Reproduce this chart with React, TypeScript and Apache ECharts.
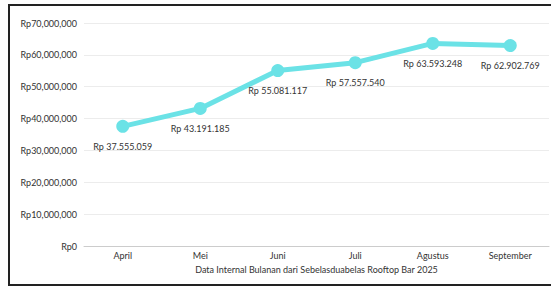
import React, { useEffect, useRef } from "react";
import * as echarts from "echarts";

const months = ["April", "Mei", "Juni", "Juli", "Agustus", "September"];
const revenue = [37555059, 43191185, 55081117, 57557540, 63593248, 62902769];
const axisTitle = "Data Internal Bulanan dari Sebelasduabelas Rooftop Bar 2025";

const fmtComma = (v: number) => "Rp" + v.toLocaleString("en-US");
const fmtDot = (v: number) => "Rp " + v.toLocaleString("en-US").replace(/,/g, ".");

export default function App() {
  const ref = useRef<HTMLDivElement>(null);
  useEffect(() => {
    if (!ref.current) return;
    const chart = echarts.init(ref.current, null, { renderer: "svg" });
    const font = "Lato, 'Noto Sans', sans-serif";
    chart.setOption({
      animation: false,
      textStyle: { fontFamily: font },
      grid: { left: 84, right: 2, top: 23, bottom: 42, containLabel: false },
      xAxis: {
        type: "category",
        data: months,
        axisLine: { lineStyle: { color: "#cccccc" } },
        axisTick: { show: false },
        axisLabel: { color: "#333", fontSize: 9, margin: 5, fontFamily: font },
        name: axisTitle,
        nameLocation: "middle",
        nameGap: 19,
        nameTextStyle: { color: "#333", fontSize: 9, fontFamily: font },
      },
      yAxis: {
        type: "value",
        min: 0,
        max: 70000000,
        interval: 10000000,
        axisLine: { show: false },
        axisTick: { show: false },
        splitLine: { lineStyle: { color: "#ececec" } },
        axisLabel: {
          color: "#333",
          fontSize: 9,
          margin: 7,
          fontFamily: font,
          formatter: (v: number) => fmtComma(v),
        },
      },
      series: [
        {
          type: "line",
          data: revenue,
          symbol: "circle",
          symbolSize: 13,
          lineStyle: { color: "#6be2e6", width: 5 },
          itemStyle: { color: "#6be2e6" },
          label: {
            show: true,
            position: "bottom",
            distance: 9,
            color: "#333",
            fontSize: 9,
            fontFamily: font,
            formatter: (p: any) => fmtDot(p.value),
          },
        },
      ],
    });
    return () => chart.dispose();
  }, []);
  return (
    <div style={{ position: "fixed", left: 0, top: 0, width: 551, height: 288, background: "#fff" }}>
      <div
        style={{
          position: "absolute",
          left: 8,
          top: 4,
          width: 600,
          height: 282,
          border: "2px solid #222",
          boxSizing: "border-box",
        }}
      />
      <div ref={ref} style={{ position: "absolute", left: 0, top: 0, width: 551, height: 288 }} />
    </div>
  );
}
